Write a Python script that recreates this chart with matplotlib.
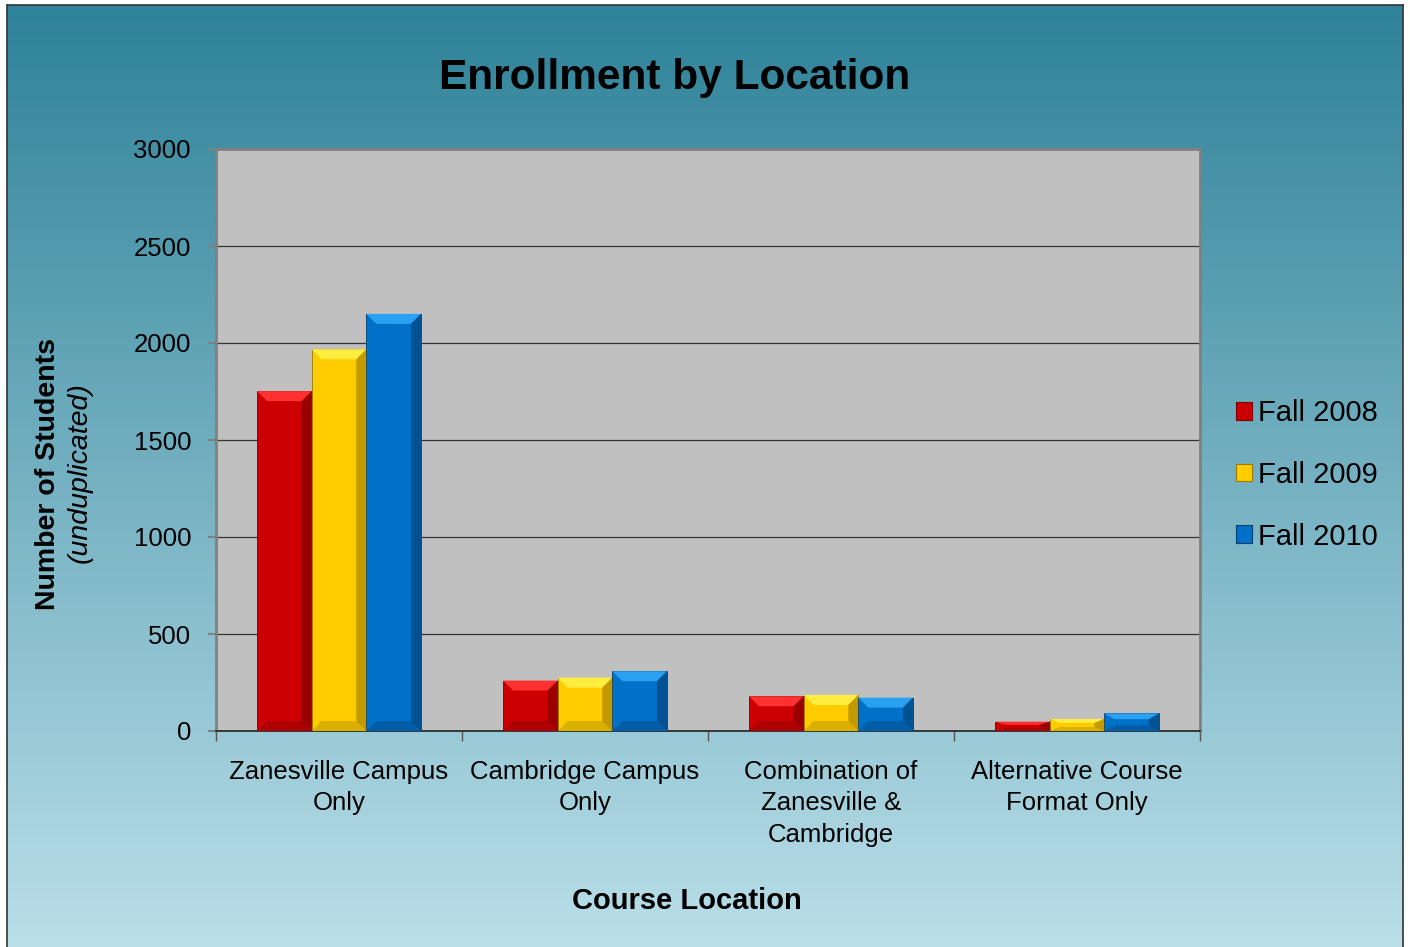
import numpy as np
import matplotlib
matplotlib.use("Agg")
import matplotlib.pyplot as plt
from matplotlib.patches import Patch

plt.rcParams['font.family'] = ['Liberation Sans', 'DejaVu Sans']

categories = ["Zanesville Campus\nOnly", "Cambridge Campus\nOnly",
              "Combination of\nZanesville &\nCambridge", "Alternative Course\nFormat Only"]
series = ["Fall 2008", "Fall 2009", "Fall 2010"]
fall_2008 = [1752, 260, 179, 48]
fall_2009 = [1968, 275, 186, 62]
fall_2010 = [2150, 308, 172, 91]
values = [fall_2008, fall_2009, fall_2010]
colors = ["#CC0000", "#FFCC00", "#0070C8"]
dark = ["#7A0000", "#9A7A00", "#003F70"]
light = ["#FF3030", "#FFEE40", "#2AA0F0"]

W, H = 1410, 947
fig = plt.figure(figsize=(W / 100, H / 100), dpi=100)

# gradient background with frame
bg = fig.add_axes([7 / W, 0, (1403 - 7) / W, (947 - 5) / H])
grad = np.linspace(0, 1, 256).reshape(-1, 1)
top_c = np.array([0x2E, 0x82, 0x99]) / 255
bot_c = np.array([0xBA, 0xDF, 0xE9]) / 255
img = top_c[None, None, :] * (1 - grad[:, :, None]) + bot_c[None, None, :] * grad[:, :, None]
bg.imshow(img, aspect='auto', extent=[0, 1, 0, 1], origin='upper')
bg.set_xticks([])
bg.set_yticks([])
for s in bg.spines.values():
    s.set_color("#333333")
    s.set_linewidth(1.2)
bg.spines['bottom'].set_visible(False)

ax = fig.add_axes([216 / W, 1 - 731 / H, (1200 - 216) / W, (731 - 149) / H])
ax.set_facecolor("#C0C0C0")
x = np.arange(len(categories))
bw = 0.222
bars_all = []
for i, (vals, c) in enumerate(zip(values, colors)):
    bars = ax.bar(x + (i - 1) * bw, vals, width=bw, color=c, edgecolor=dark[i],
                  linewidth=0.6, zorder=3, label=series[i])
    bars_all.append(bars)

ax.set_xlim(-0.5, len(categories) - 0.5)
ax.set_ylim(0, 3000)

# bevel shading derived from bar geometry
px_x = len(categories) / (1200 - 216)
px_y = 3000 / (731 - 149)
for i, bars in enumerate(bars_all):
    for b in bars:
        bx, bwid, bh = b.get_x(), b.get_width(), b.get_height()
        bev_y = min(10 * px_y, bh / 3)
        bev_x = min(10 * px_x, bwid / 4)
        ax.fill([bx, bx + bwid, bx + bwid - bev_x, bx + bev_x],
                [bh, bh, bh - bev_y, bh - bev_y], color=light[i], zorder=4, lw=0)
        ax.fill([bx + bwid, bx + bwid, bx + bwid - bev_x, bx + bwid - bev_x],
                [bh, 0, bev_y, bh - bev_y], color=dark[i], alpha=0.6, zorder=4, lw=0)
        ax.fill([bx, bx + bwid, bx + bwid - bev_x, bx + bev_x],
                [0, 0, bev_y, bev_y], color=dark[i], alpha=0.35, zorder=4, lw=0)

ax.set_yticks(np.arange(0, 3001, 500))
ax.yaxis.grid(True, color="#333333", linewidth=0.9, zorder=1)
ax.set_axisbelow(True)
ax.tick_params(axis='y', labelsize=18.5, length=6, width=1.5, color="#808080", pad=12)
ax.set_xticks(x)
ax.set_xticklabels(categories, fontsize=18.5, linespacing=1.38)
ax.set_xticks(np.arange(-0.5, len(categories), 1), minor=True)
ax.tick_params(axis='x', which='major', length=0, pad=21)
ax.tick_params(axis='x', which='minor', length=7, width=1, color="#555555")
for side in ['left', 'top', 'right']:
    ax.spines[side].set_color("#808080")
    ax.spines[side].set_linewidth(2)
ax.spines['bottom'].set_color("#222222")
ax.spines['bottom'].set_linewidth(1.2)

fig.text(675 / W, 1 - 78 / H, "Enrollment by Location", fontsize=30.5, fontweight='bold',
         ha='center', va='center')
fig.text(687 / W, 1 - 901 / H, "Course Location", fontsize=21, fontweight='bold',
         ha='center', va='center')
fig.text(48 / W, 1 - 474 / H, "Number of Students", fontsize=20.5, fontweight='bold',
         ha='center', va='center', rotation=90)
fig.text(80 / W, 1 - 473 / H, "(unduplicated)", fontsize=20.5, style='italic',
         ha='center', va='center', rotation=90)

handles = [Patch(facecolor=c, edgecolor=d, linewidth=0.8) for c, d in zip(colors, dark)]
fig.legend(handles, series, loc='center left', bbox_to_anchor=(1236 / W, 1 - 475 / H),
           frameon=False, fontsize=21, handlelength=0.55, handleheight=0.55,
           handletextpad=0.2, labelspacing=1.15, borderpad=0, borderaxespad=0)

fig.savefig("out.png", dpi=100)
